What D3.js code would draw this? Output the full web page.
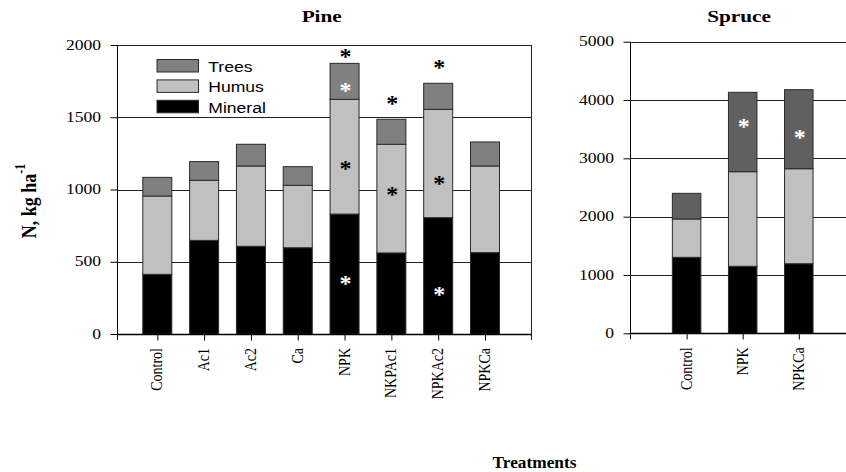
<!DOCTYPE html>
<html><head><meta charset="utf-8">
<script src="https://cdn.jsdelivr.net/npm/d3@7"></script>
<style>body{margin:0;background:#fff}svg{display:block}</style>
</head><body>
<svg id="c" width="846" height="472"></svg>
<script>
// ---- data ----
const pineCategories = ["Control","Ac1","Ac2","Ca","NPK","NKPAc1","NPKAc2","NPKCa"];
const pineMineral = [413, 648, 607, 597, 830, 561, 805, 563];
const pineHumus   = [542, 416, 556, 432, 794, 752, 750, 600];
const pineTrees   = [129, 129, 150, 129, 249, 173, 180, 166];
const pineTicks = [0, 500, 1000, 1500, 2000];

const spruceCategories = ["Control","NPK","NPKCa"];
const spruceMineral = [1303, 1149, 1193];
const spruceHumus   = [657, 1622, 1629];
const spruceTrees   = [440, 1361, 1355];
const spruceTicks = [0, 1000, 2000, 3000, 4000, 5000];

const seriesNames = ["Trees","Humus","Mineral"];
// significance stars: [category, value level, colour]
const pineStars = [
  ["NPK", 1943, "black"], ["NPK", 1707, "white"], ["NPK", 1170, "black"], ["NPK", 374, "white"],
  ["NKPAc1", 1619, "black"], ["NKPAc1", 990, "black"],
  ["NPKAc2", 1866, "black"], ["NPKAc2", 1066, "black"], ["NPKAc2", 298, "white"]
];
const spruceStars = [["NPK", 3601, "white"], ["NPKCa", 3417, "white"]];

// ---- drawing ----
const svg = d3.select("#c");
const serif = "'Liberation Serif', 'Times New Roman', serif";
const sans = "'Liberation Sans', Arial, sans-serif";

function stext(g, x, y, str, opt) {
  const t = g.append("text")
    .attr("transform", `translate(${x},${y}) scale(${opt.sx||1},1)` + (opt.rot ? ` rotate(${opt.rot})` : ""))
    .style("font-family", opt.family || serif)
    .style("font-size", opt.size + "px")
    .style("font-weight", opt.weight || "normal")
    .attr("text-anchor", opt.anchor || "start")
    .attr("fill", opt.fill || "#000");
  if (opt.dy) t.attr("dy", opt.dy);
  t.text(str);
  return t;
}

function panel(cfg) {
  const g = svg.append("g");
  const x = d3.scalePoint().domain(cfg.cats).range(cfg.xr);
  const y = d3.scaleLinear().domain(cfg.ydom).range(cfg.yr);
  const [x0, x1] = cfg.frame;
  // gridlines
  g.selectAll("line.grid").data(cfg.ticks.filter(d => d > 0)).join("line")
    .attr("x1", x0).attr("x2", x1)
    .attr("y1", d => Math.round(y(d)) + 0.5).attr("y2", d => Math.round(y(d)) + 0.5)
    .attr("stroke", "#222").attr("stroke-width", 1);
  if (cfg.rightBorder) {
    g.append("line").attr("x1", x1 + 0.5).attr("x2", x1 + 0.5)
      .attr("y1", y(cfg.ydom[1])).attr("y2", y(0) + 6)
      .attr("stroke", "#222");
  }
  // stacked bars
  const rows = cfg.cats.map((c, i) => ({cat: c, Mineral: cfg.mineral[i], Humus: cfg.humus[i], Trees: cfg.trees[i]}));
  const stack = d3.stack().keys(["Mineral", "Humus", "Trees"])(rows);
  const color = {Mineral: "#000000", Humus: "#c0c0c0", Trees: cfg.treeColor};
  stack.forEach(layer => {
    g.selectAll(null).data(layer).join("rect")
      .attr("x", d => x(d.data.cat) - cfg.bw / 2)
      .attr("width", cfg.bw)
      .attr("y", d => y(d[1]))
      .attr("height", d => y(d[0]) - y(d[1]))
      .attr("fill", color[layer.key])
      .attr("stroke", "#2a2a2a").attr("stroke-width", 1);
  });
  // y axis
  const ya = g.append("g").attr("transform", `translate(${x0 + 0.5},0)`)
    .call(d3.axisLeft(y).tickValues(cfg.ticks).tickSize(7).tickFormat(d3.format("d")));
  ya.select(".domain").remove();
  ya.selectAll(".tick line").attr("stroke", "#000");
  ya.selectAll(".tick text").remove();
  g.append("line").attr("x1", x0 + 0.5).attr("x2", x0 + 0.5).attr("y1", y(cfg.ydom[1])).attr("y2", y(0) + 6).attr("stroke", "#000");
  cfg.ticks.forEach(t => stext(g, x0 - 16, y(t), String(t), {size: 13.8, sx: 1.27, anchor: "end", dy: "0.34em"}));
  // x axis
  const xa = g.append("g").attr("transform", `translate(0,${Math.round(y(0)) + 0.5})`)
    .call(d3.axisBottom(x).tickSize(6).tickFormat(""));
  xa.select(".domain").remove();
  xa.selectAll(".tick line").attr("stroke", "#000");
  g.append("line").attr("x1", x0).attr("x2", x1 + 1).attr("y1", Math.round(y(0)) + 0.5).attr("y2", Math.round(y(0)) + 0.5).attr("stroke", "#000").attr("stroke-width", 1.3);
  cfg.cats.forEach(c => stext(g, x(c) + 5, y(0) + 14, c, {size: 14, sx: 1.25, rot: -90, anchor: "end"}));
  // stars
  cfg.stars.forEach(s => stext(g, x(s[0]) + 1, y(s[1]) + 11, "*", {size: 24, weight: "bold", anchor: "middle", fill: s[2]}));
  return {x, y};
}

panel({cats: pineCategories, xr: [157.3, 485], ydom: [0, 2000], yr: [334, 45], frame: [117, 531],
  ticks: pineTicks, mineral: pineMineral, humus: pineHumus, trees: pineTrees, treeColor: "#808080",
  bw: 29, rightBorder: true, stars: pineStars});
panel({cats: spruceCategories, xr: [686.6, 798.8], ydom: [0, 5000], yr: [333.3, 41.7], frame: [630, 846],
  ticks: spruceTicks, mineral: spruceMineral, humus: spruceHumus, trees: spruceTrees, treeColor: "#606060",
  bw: 28.5, rightBorder: false, stars: spruceStars});

// legend
const lg = svg.append("g");
const legColors = {Trees: "#808080", Humus: "#c0c0c0", Mineral: "#000000"};
seriesNames.forEach((n, i) => {
  const yy = 59.5 + i * 20.4;
  lg.append("rect").attr("x", 157).attr("y", yy).attr("width", 41.5).attr("height", 12.5)
    .attr("fill", legColors[n]).attr("stroke", "#2a2a2a");
  stext(lg, 208.3, yy + 12.3, n, {family: sans, size: 15.4, sx: 1.14});
});

// titles
stext(svg, 321.7, 22, "Pine", {size: 17, weight: "bold", sx: 1.25, anchor: "middle"});
stext(svg, 739, 22, "Spruce", {size: 17, weight: "bold", sx: 1.25, anchor: "middle"});
stext(svg, 534.5, 467.7, "Treatments", {size: 16.5, weight: "bold", sx: 1.05, anchor: "middle"});
// y label
const yl = svg.append("text")
  .attr("transform", `translate(35.5,201) scale(1.2,1) rotate(-90)`)
  .style("font-family", serif).style("font-size", "18px").style("font-weight", "bold")
  .attr("text-anchor", "middle");
yl.append("tspan").text("N, kg ha");
yl.append("tspan").style("font-size", "12px").attr("dy", "-0.7em").text("-1");
</script>
</body></html>
